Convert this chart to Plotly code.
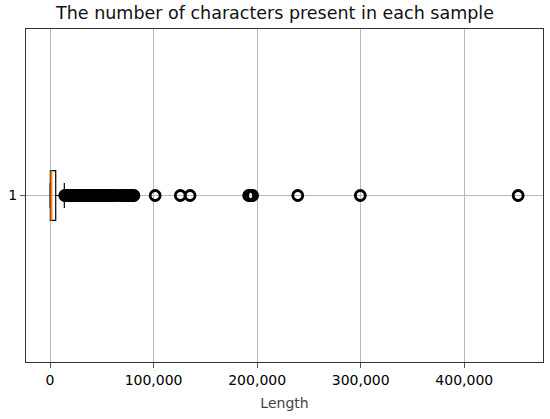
import plotly.graph_objects as go

# box statistics (characters per sample)
q1 = 300
median = 1300
q3 = 5500
lower_whisker = 0
upper_whisker = 13800

# outliers beyond the upper whisker
outliers = [
    14200, 15300, 16500, 17600, 18800, 19900, 21100, 22300, 23400, 24600,
    25700, 26900, 28100, 29200, 30400, 31500, 32700, 33900, 35000, 36200,
    37400, 38500, 39700, 40800, 42000, 43200, 44300, 45500, 46600, 47800,
    49000, 50100, 51300, 52400, 53600, 54800, 55900, 57100, 58200, 59400,
    60600, 61200, 64500, 67500, 70200, 72000, 73600, 75100, 76700, 78200,
    79800, 81000, 101500, 125800, 135200, 191800, 193500, 195600, 239200,
    299600, 452000,
]

box_pos = 1
box_width = 0.15

fig = go.Figure()

fig.add_trace(
    go.Box(
        y=[box_pos],
        q1=[q1],
        median=[median],
        q3=[q3],
        lowerfence=[lower_whisker],
        upperfence=[upper_whisker],
        orientation="h",
        width=box_width,
        whiskerwidth=0.5,
        boxpoints=False,
        line=dict(color="black", width=1.2),
        fillcolor="rgba(0,0,0,0)",
        showlegend=False,
        hoverinfo="skip",
    )
)

# matplotlib-style orange median line
fig.add_trace(
    go.Scatter(
        x=[median, median],
        y=[box_pos - box_width / 2, box_pos + box_width / 2],
        mode="lines",
        line=dict(color="#ff7f0e", width=2),
        showlegend=False,
        hoverinfo="skip",
    )
)

fig.add_trace(
    go.Scatter(
        x=outliers,
        y=[box_pos] * len(outliers),
        mode="markers",
        marker=dict(
            symbol="circle-open",
            size=10,
            color="black",
            line=dict(width=2.8, color="black"),
        ),
        showlegend=False,
    )
)

fig.update_layout(
    width=550,
    height=419,
    margin=dict(l=26, r=7, t=29, b=57),
    paper_bgcolor="white",
    plot_bgcolor="white",
    font=dict(family="DejaVu Sans", size=14, color="black"),
    title=dict(
        text="The number of characters present in each sample",
        x=0.5,
        xanchor="center",
        y=1 - 12.5 / 419,
        yanchor="middle",
        font=dict(size=17.5, color="#111"),
    ),
    xaxis=dict(
        range=[-23200, 476000],
        tickvals=[0, 100000, 200000, 300000, 400000],
        tickformat=",",
        automargin=False,
        showgrid=True,
        gridcolor="#b8b8b8",
        gridwidth=1,
        zeroline=False,
        showline=True,
        linecolor="#333",
        linewidth=1.2,
        mirror=True,
        ticks="outside",
        ticklen=5,
        tickcolor="#555",
        title=dict(text="Length", standoff=11, font=dict(size=14, color="#444")),
    ),
    yaxis=dict(
        range=[0.5, 1.5],
        tickvals=[1],
        ticktext=["1"],
        automargin=False,
        showgrid=True,
        gridcolor="#b8b8b8",
        gridwidth=1,
        zeroline=False,
        showline=True,
        linecolor="#333",
        linewidth=1.2,
        mirror=True,
        ticks="outside",
        ticklen=5,
        tickcolor="#555",
    ),
)

# drop the default page margin so the figure sits at the window's corner
fig.write_html(
    "out.html",
    config={"displayModeBar": False},
    post_script="document.body.style.margin='0';",
)
